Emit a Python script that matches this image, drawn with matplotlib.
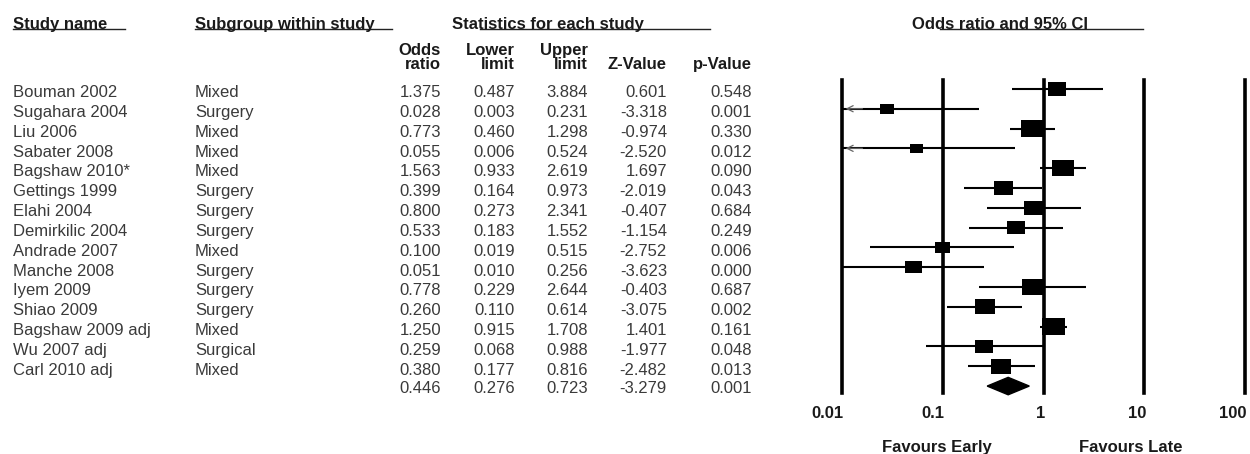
import numpy as np
import matplotlib.pyplot as plt
import matplotlib.transforms as mtransforms
from matplotlib.path import Path
from matplotlib.lines import Line2D

plt.rcParams['font.family'] = ['Liberation Sans', 'DejaVu Sans']

## data
studies = ["Bouman 2002", "Sugahara 2004", "Liu 2006", "Sabater 2008", "Bagshaw 2010*",
           "Gettings 1999", "Elahi 2004", "Demirkilic 2004", "Andrade 2007", "Manche 2008",
           "Iyem 2009", "Shiao 2009", "Bagshaw 2009 adj", "Wu 2007 adj", "Carl 2010 adj"]
subgroups = ["Mixed", "Surgery", "Mixed", "Mixed", "Mixed",
             "Surgery", "Surgery", "Surgery", "Mixed", "Surgery",
             "Surgery", "Surgery", "Mixed", "Surgical", "Mixed"]
odds = [1.375, 0.028, 0.773, 0.055, 1.563, 0.399, 0.800, 0.533, 0.100, 0.051,
        0.778, 0.260, 1.250, 0.259, 0.380]
lower = [0.487, 0.003, 0.460, 0.006, 0.933, 0.164, 0.273, 0.183, 0.019, 0.010,
         0.229, 0.110, 0.915, 0.068, 0.177]
upper = [3.884, 0.231, 1.298, 0.524, 2.619, 0.973, 2.341, 1.552, 0.515, 0.256,
         2.644, 0.614, 1.708, 0.988, 0.816]
zval = [0.601, -3.318, -0.974, -2.520, 1.697, -2.019, -0.407, -1.154, -2.752, -3.623,
        -0.403, -3.075, 1.401, -1.977, -2.482]
pval = [0.548, 0.001, 0.330, 0.012, 0.090, 0.043, 0.684, 0.249, 0.006, 0.000,
        0.687, 0.002, 0.161, 0.048, 0.013]
# relative weight -> box width (px)
box_w = [18, 14, 22, 13, 22, 19, 19, 18, 15, 17, 21, 20, 23, 18, 20]
pooled = [0.446, 0.276, 0.723, -3.279, 0.001]

ticks = [0.01, 0.1, 1, 10, 100]
tick_labels = ["0.01", "0.1", "1", "10", "100"]

W, H = 1250, 454
def fx(px):
    return px / W
def fy(py):
    return 1 - py / H

fig = plt.figure(figsize=(W / 100, H / 100), dpi=100)

## forest axes
ax = fig.add_axes([fx(842), fy(393), (1245 - 842) / W, (393 - 80) / H])
ax.set_xscale('log')
ax.set_xlim(0.01, 100)
ax.set_ylim(15.35, -0.45)
ax.axis('off')

for v in ticks:
    ax.axvline(v, color='k', lw=2.6, clip_on=False, zorder=1)

rows = np.arange(len(studies))
ax.hlines(rows, np.maximum(lower, 0.01), upper, color='k', lw=1.5, zorder=2)
for i in rows:
    if lower[i] < 0.01:
        ax.annotate('', xy=(0.0102, i), xytext=(0.017, i),
                    arrowprops=dict(arrowstyle='->', color='#666666', lw=0.9,
                                    mutation_scale=11), zorder=4)

rect = Path([(-0.5, -0.37), (0.5, -0.37), (0.5, 0.37), (-0.5, 0.37), (-0.5, -0.37)],
            [Path.MOVETO, Path.LINETO, Path.LINETO, Path.LINETO, Path.CLOSEPOLY])
sizes = (np.array(box_w) / (100 / 72)) ** 2
ax.scatter(odds, rows, marker=rect, s=sizes, color='k', linewidths=0, zorder=3,
           clip_on=False)

# pooled diamond
ys = len(studies)
dh = 0.44
ax.fill([pooled[1], pooled[0], pooled[2], pooled[0]], [ys, ys - dh, ys, ys + dh],
        color='k', zorder=3, clip_on=False)

tx = mtransforms.offset_copy(ax.get_xaxis_transform(), fig=fig, x=2, y=0, units='dots')
for v, lab in zip(ticks, tick_labels):
    ax.text(v, 1 - (418 - 80) / 313, lab, transform=tx, ha='right', va='baseline',
            fontsize=12, fontweight='bold', color='#1a1a1a')
fig.text(fx(937), fy(452), "Favours Early", ha='center', va='baseline',
         fontsize=12, fontweight='bold', color='#1a1a1a')
fig.text(fx(1131), fy(452), "Favours Late", ha='center', va='baseline',
         fontsize=12, fontweight='bold', color='#1a1a1a')

## table
trow = mtransforms.blended_transform_factory(fig.transFigure, ax.transData)
body = dict(fontsize=12, color='#3a3a3a', va='baseline', transform=trow)
off = 0.42
for i in rows:
    y = i + off
    fig.text(fx(13), y, studies[i], ha='left', **body)
    fig.text(fx(195), y, subgroups[i], ha='left', **body)
    fig.text(fx(441), y, "%.3f" % odds[i], ha='right', **body)
    fig.text(fx(515), y, "%.3f" % lower[i], ha='right', **body)
    fig.text(fx(588), y, "%.3f" % upper[i], ha='right', **body)
    fig.text(fx(667), y, "%.3f" % zval[i], ha='right', **body)
    fig.text(fx(752), y, "%.3f" % pval[i], ha='right', **body)
y = ys + off - 0.05
for xr, val in zip([441, 515, 588, 667, 752], pooled):
    fig.text(fx(xr), y, "%.3f" % val, ha='right', **body)

## headers
hdr = dict(fontsize=12, fontweight='bold', color='#1a1a1a', va='baseline')
fig.text(fx(13), fy(29), "Study name", ha='left', **hdr)
fig.text(fx(195), fy(29), "Subgroup within study", ha='left', **hdr)
fig.text(fx(452), fy(29), "Statistics for each study", ha='left', **hdr)
fig.text(fx(912), fy(29), "Odds ratio and 95% CI", ha='left', **hdr)
for x0, x1 in [(13, 125), (195, 392), (480, 710), (940, 1143)]:
    fig.add_artist(Line2D([fx(x0), fx(x1)], [fy(29), fy(29)], color='#222222', lw=1.0))

col_right = [441, 515, 588, 667, 752]
top_lab = ["Odds", "Lower", "Upper", "", ""]
bot_lab = ["ratio", "limit", "limit", "Z-Value", "p-Value"]
for xr, t, b in zip(col_right, top_lab, bot_lab):
    fig.text(fx(xr), fy(55), t, ha='right', **hdr)
    fig.text(fx(xr), fy(69), b, ha='right', **hdr)

fig.savefig("out.png", dpi=100)
